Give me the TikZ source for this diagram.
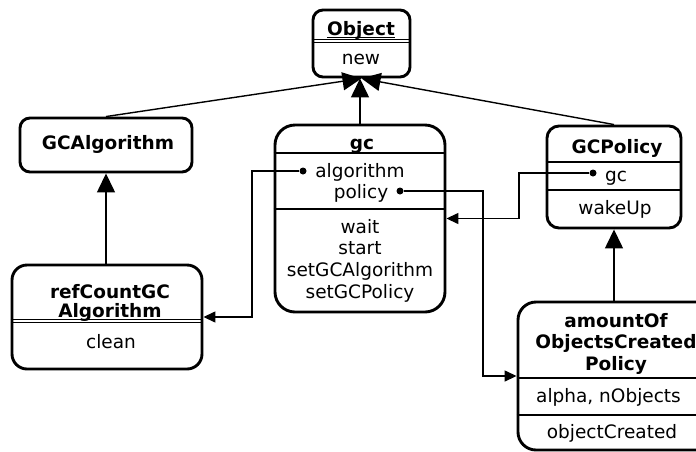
\documentclass[tikz,border=0pt]{standalone}
\usepackage{fontspec}
\setmainfont{DejaVu Sans}
\usetikzlibrary{arrows.meta, calc}

\begin{document}
\fontsize{18.5}{21}\selectfont
\begin{tikzpicture}[
    x=1pt, y=-1pt,
    cls/.style={rectangle, rounded corners=#1, draw, line width=2.9pt, inner sep=0pt},
    cls/.default=12pt,
    clsname/.style={anchor=base, inner sep=0pt, font=\bfseries},
    entry/.style={anchor=base, inner sep=0pt},
    divider/.style={line width=1.3pt},
    thindiv/.style={line width=1pt},
    attrdot/.style={circle, fill, inner sep=0pt, minimum size=7pt},
    inh/.style={-{Triangle[length=19pt, width=18pt]}, line width=1.4pt},
    link/.style={-{Triangle[length=12pt, width=11pt]}, line width=1.4pt},
]
\useasboundingbox (0,0) rectangle (696,451);
\clip (0,0) rectangle (696,451);

% ─── Object ───
\node[cls=10pt, minimum width=97pt, minimum height=67pt] (object) at (361.5,43.5) {};
\node[clsname] (objname) at (361,35.5) {Object};
\draw[divider] ($(objname.base west)+(0,2)$) -- ($(objname.base east)+(0,2)$);
\draw[thindiv] (object.west |- 0,39.5) -- (object.east |- 0,39.5);
\draw[thindiv] (object.west |- 0,42) -- (object.east |- 0,42);
\node[entry] (objnew) at (361,64) {new};

% ─── GCAlgorithm ───
\node[cls=10pt, minimum width=172pt, minimum height=54pt] (gcalgo) at (106,145) {};
\node[clsname] (gcalgoname) at (108,149) {GCAlgorithm};

% ─── gc ───
\node[cls=20pt, minimum width=170pt, minimum height=187pt] (gc) at (360,218.5) {};
\node[clsname] (gcname) at (362,149) {gc};
\draw[divider] (gc.west |- 0,153) -- (gc.east |- 0,153);
\node[entry] (gcattr1) at (360,177) {algorithm};
\node[entry] (gcattr2) at (361,198) {policy};
\node[attrdot] (algdot) at (303,171) {};
\node[attrdot] (poldot) at (400,191) {};
\draw[divider] (gc.west |- 0,209) -- (gc.east |- 0,209);
\foreach \op [count=\i] in {wait, start, setGCAlgorithm, setGCPolicy}
    \node[entry] (gcop\i) at (360,{233+21.7*(\i-1)}) {\op};

% ─── GCPolicy ───
\node[cls=12pt, minimum width=134pt, minimum height=102pt] (gcpolicy) at (614,177) {};
\node[clsname] (gcpname) at (617,153) {GCPolicy};
\draw[divider] (gcpolicy.west |- 0,162) -- (gcpolicy.east |- 0,162);
\node[entry] (gcpattr) at (616,181) {gc};
\node[attrdot] (gcpdot) at (593,173) {};
\draw[divider] (gcpolicy.west |- 0,190) -- (gcpolicy.east |- 0,190);
\node[entry] (gcpop) at (615,214) {wakeUp};

% ─── refCountGCAlgorithm ───
\node[cls=15pt, minimum width=190pt, minimum height=104pt] (refcount) at (107,317) {};
\node[clsname] (rcname1) at (110,298) {refCountGC};
\node[clsname] (rcname2) at (110,317) {Algorithm};
\draw[thindiv] (refcount.west |- 0,319.5) -- (refcount.east |- 0,319.5);
\draw[thindiv] (refcount.west |- 0,322.5) -- (refcount.east |- 0,322.5);
\node[entry] (rcop) at (111,348) {clean};

% ─── amountOfObjectsCreatedPolicy ───
\node[cls=18pt, minimum width=196pt, minimum height=148pt] (amount) at (616,376) {};
\foreach \ln/\y [count=\i] in {amountOf/327, ObjectsCreated/348.5, Policy/370}
    \node[clsname] (aoname\i) at (616,\y) {\ln};
\draw[divider] (amount.west |- 0,378) -- (amount.east |- 0,378);
\node[entry] (aoattr) at (608.5,402) {alpha, nObjects};
\draw[divider] (amount.west |- 0,415) -- (amount.east |- 0,415);
\node[entry] (aoop) at (612,438) {objectCreated};

% ─── Inheritance ───
\draw[inh] (gcalgo.north) -- (object.south);
\draw[inh] (gc.north) -- (gc.north |- object.south);
\draw[inh] (gcpolicy.north) -- (object.south);
\draw[inh] (refcount.north -| gcalgo.south) -- (gcalgo.south);
\draw[inh] (amount.north -| gcpolicy.south) -- (gcpolicy.south);

% ─── Links ───
\draw[link] (algdot) -- ++(-51,0) |- (refcount.east);
\draw[link] (poldot) -- ++(83,0) |- (amount.west);
\draw[link] (gcpdot) -- ++(-74,0) |- (gc.east);

\end{tikzpicture}
\end{document}
